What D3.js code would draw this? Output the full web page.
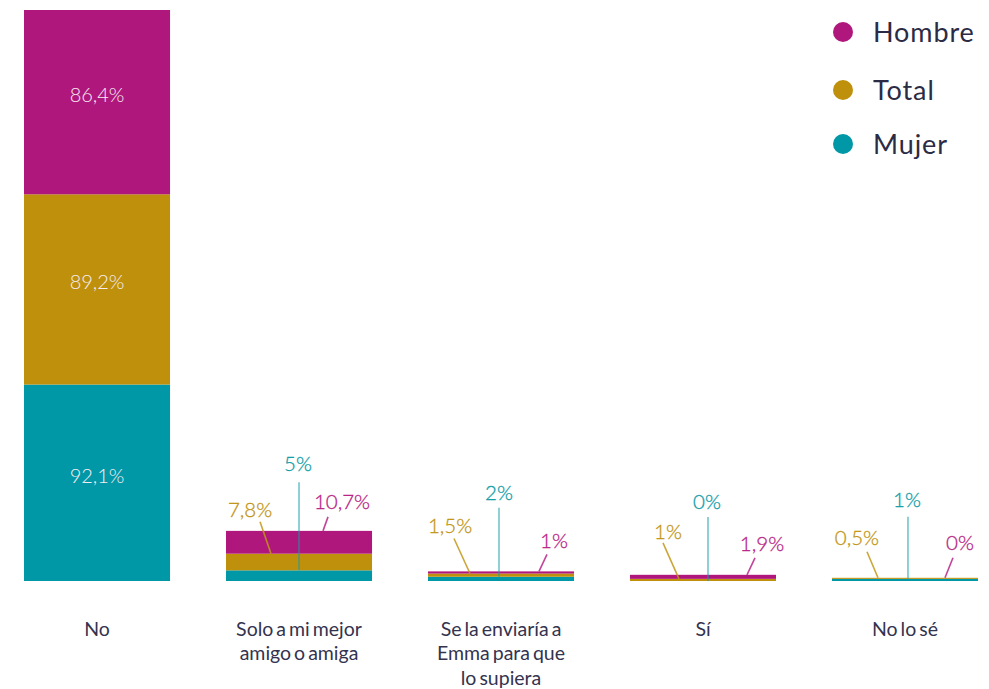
<!DOCTYPE html>
<html lang="es">
<head>
<meta charset="utf-8">
<script src="https://cdn.jsdelivr.net/npm/d3@7"></script>
<style>
  html, body { margin: 0; padding: 0; background: #ffffff; }
  svg { display: block; font-family: Lato, "Open Sans", sans-serif; }
</style>
</head>
<body>
<svg id="chart" width="989" height="689"></svg>
<script>
// Respuestas por categoría (%), apiladas: Mujer abajo, Total en medio, Hombre arriba
const categories = [
  "No",
  "Solo a mi mejor\namigo o amiga",
  "Se la enviaría a\nEmma para que\nlo supiera",
  "Sí",
  "No lo sé"
];
const seriesKeys = ["Mujer", "Total", "Hombre"];
const mujer  = [92.1, 5,    2,   0,   1];
const total  = [89.2, 7.8,  1.5, 1,   0.5];
const hombre = [86.4, 10.7, 1,   1.9, 0];
const legendOrder = ["Hombre", "Total", "Mujer"];

const colors = { Hombre: "#b0177d", Total: "#bf900b", Mujer: "#0098a6" };
const labelColors = { Hombre: "#b92586", Total: "#c29616", Mujer: "#129ea9" };

// Posición de las etiquetas con línea guía para las barras pequeñas:
// [dx fin de línea, dx inicio, dy inicio, dx etiqueta, dy etiqueta]
const callouts = {
  1: { Mujer: [0, 0, -88, -1, -107], Total: [-28, -39, -32, -49, -44], Hombre: [24, 29, -14, 43, -29] },
  2: { Mujer: [-2, -2, -69, -2, -84], Total: [-31, -47, -35, -51, -48], Hombre: [38, 46, -17, 53, -31] },
  3: { Mujer: [5, 5, -64, 4, -79],   Total: [-24, -40, -36, -35, -47], Hombre: [44, 52, -17, 59, -31] },
  4: { Mujer: [3, 3, -62, 2, -79],   Total: [-27, -38, -26, -48, -40], Hombre: [40, 48, -20, 55, -35] }
};

const rows = categories.map((c, i) => ({
  category: c, Mujer: mujer[i], Total: total[i], Hombre: hombre[i]
}));

const locale = d3.formatLocale({ decimal: ",", thousands: ".", grouping: [3], currency: ["", "€"] });
const fmt = v => locale.format(".1~f")(v) + "%";

const svg = d3.select("#chart");

const stack = d3.stack().keys(seriesKeys);
const layers = stack(rows);
const maxTotal = d3.max(layers[layers.length - 1], d => d[1]);

const x = d3.scaleBand().domain(categories).range([24, 978]).paddingInner(0.277).paddingOuter(0);
const y = d3.scaleLinear().domain([0, maxTotal]).range([581, 10]);

// Barras apiladas
svg.append("g").selectAll("g")
  .data(layers)
  .join("g")
  .attr("fill", d => colors[d.key])
  .selectAll("rect")
  .data(d => d)
  .join("rect")
  .attr("x", d => x(d.data.category))
  .attr("y", d => y(d[1]))
  .attr("width", x.bandwidth())
  .attr("height", d => y(d[0]) - y(d[1]));

// Etiquetas dentro de la barra grande
const big = svg.append("g");
layers.forEach(layer => {
  const d = layer[0];
  big.append("text")
    .attr("x", x(d.data.category) + x.bandwidth() / 2)
    .attr("y", (y(d[0]) + y(d[1])) / 2)
    .attr("text-anchor", "middle")
    .attr("fill", "#f6edf3")
    .attr("font-size", 20)
    .attr("font-weight", 300)
    .text(fmt(d.data[layer.key]));
});

// Etiquetas con línea guía para las barras pequeñas
const small = svg.append("g");
layers.forEach(layer => {
  layer.forEach((d, i) => {
    if (!callouts[i]) return;
    const [endDx, startDx, startDy, labDx, labDy] = callouts[i][layer.key];
    const cx = x(d.data.category) + x.bandwidth() / 2;
    const ay = y(d[1]);
    small.append("line")
      .attr("x1", cx + startDx).attr("y1", ay + startDy)
      .attr("x2", cx + endDx).attr("y2", ay)
      .attr("stroke", labelColors[layer.key])
      .attr("stroke-opacity", layer.key === "Mujer" ? 0.6 : 0.85)
      .attr("stroke-width", 1.6);
    small.append("text")
      .attr("x", cx + labDx)
      .attr("y", ay + labDy)
      .attr("dy", "0.36em")
      .attr("text-anchor", "middle")
      .attr("fill", labelColors[layer.key])
      .attr("font-size", 20.5)
      .attr("font-weight", 300)
      .attr("stroke", labelColors[layer.key])
      .attr("stroke-width", 0.3)
      .text(fmt(d.data[layer.key]));
  });
});

// Eje de categorías (sin línea ni marcas)
const axis = svg.append("g")
  .attr("transform", "translate(0,581)")
  .call(d3.axisBottom(x).tickSize(0).tickFormat(""));
axis.select(".domain").remove();
axis.selectAll(".tick").each(function (c) {
  const t = d3.select(this).append("text")
    .attr("text-anchor", "middle")
    .attr("fill", "#34334f")
    .attr("font-size", 19.5)
    .attr("word-spacing", -2)
    .attr("font-family", "Lato, sans-serif");
  c.split("\n").forEach((line, k) => {
    t.append("tspan").attr("x", 0).attr("y", 54.5 + k * 24.5).text(line);
  });
});

// Leyenda
const legendY = { Hombre: 32, Total: 90, Mujer: 144 };
const legend = svg.append("g");
legendOrder.forEach(k => {
  const g = legend.append("g").attr("transform", `translate(843,${legendY[k]})`);
  g.append("circle").attr("r", 10).attr("fill", colors[k]);
  g.append("text")
    .attr("x", 30).attr("dy", "0.36em")
    .attr("fill", "#2b2b45")
    .attr("font-size", 27)
    .attr("letter-spacing", 0.9)
    .text(k);
});
</script>
</body>
</html>
